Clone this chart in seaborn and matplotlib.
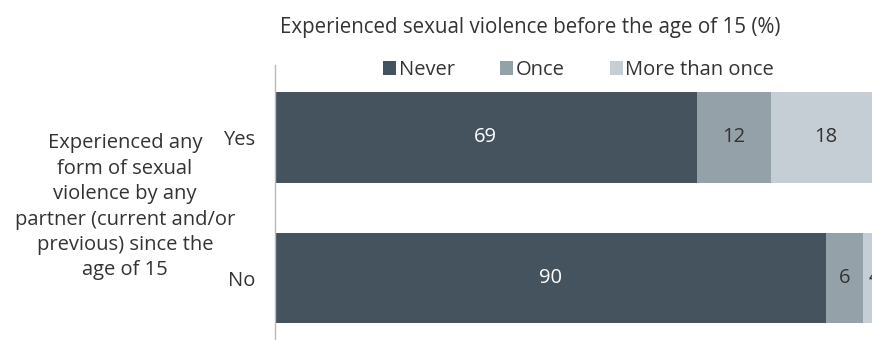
import matplotlib
matplotlib.use("Agg")
import matplotlib.pyplot as plt
import seaborn as sns
import pandas as pd
import numpy as np
from matplotlib.patches import Patch

categories = ["Yes", "No"]
never = [69, 90]
once = [12, 6]
more = [18, 4]
series_names = ["Never", "Once", "More than once"]
colors = ["#45535e", "#95a1a9", "#c6ced5"]
text_colors = ["white", "#333333", "#333333"]
left_label_lines = ["Experienced any", "form of sexual", "violence by any",
                    "partner (current and/or", "previous) since the", "age of 15"]

sns.set_theme(style="white")
plt.rcParams["font.family"] = ["Open Sans", "DejaVu Sans"]

FS = 14.5

fig = plt.figure(figsize=(8.72, 3.4), dpi=100)
ax = fig.add_axes([274.5 / 872, 0.0, 612.5 / 872, 1 - 65 / 340])

df = pd.DataFrame({"cat": categories, "Never": never, "Once": once, "More": more})
df["c1"] = df["Never"]
df["c2"] = df["Never"] + df["Once"]
df["c3"] = df["Never"] + df["Once"] + df["More"]

for col, color in zip(["c3", "c2", "c1"], colors[::-1]):
    sns.barplot(data=df, y="cat", x=col, orient="h", color=color, width=0.645,
                ax=ax, saturation=1, edgecolor="none", linewidth=0)

vals = [never, once, more]
for i in range(len(categories)):
    start = 0
    for s in range(3):
        v = vals[s][i]
        ax.text(start + v / 2, i, f"{v}", ha="center", va="center",
                color=text_colors[s], fontsize=FS)
        start += v

# axis spans 65..340 px (275 px); Yes center 137.5, No center 278.3
ax.set_xlim(0, 100)
ax.set_ylim(1.44, -0.515)
ax.set_xlabel("")
ax.set_ylabel("")
ax.set_xticks([])
ax.tick_params(axis="y", length=0, pad=14, labelsize=FS, labelcolor="#333333")
for sp in ["top", "right", "bottom"]:
    ax.spines[sp].set_visible(False)
ax.spines["left"].set_color("#bbbbbb")
ax.spines["left"].set_linewidth(1)

fig.text(530 / 872, 1 - 27 / 340, "Experienced sexual violence before the age of 15 (%)",
         ha="center", va="center", fontsize=14.8, color="#333333")

handles = [Patch(facecolor=c, edgecolor="none") for c in colors]
fig.legend(handles, series_names, loc="center", bbox_to_anchor=(578.5 / 872, 1 - 70 / 340),
           ncol=3, frameon=False, fontsize=FS, handlelength=0.65, handleheight=0.65,
           handletextpad=0.12, columnspacing=2.25, labelcolor="#333333")

for k, line in enumerate(left_label_lines):
    fig.text(125 / 872, 1 - (143 + 25.5 * k) / 340, line,
             ha="center", va="center", fontsize=FS, color="#333333")

fig.savefig("out.png", dpi=100)
